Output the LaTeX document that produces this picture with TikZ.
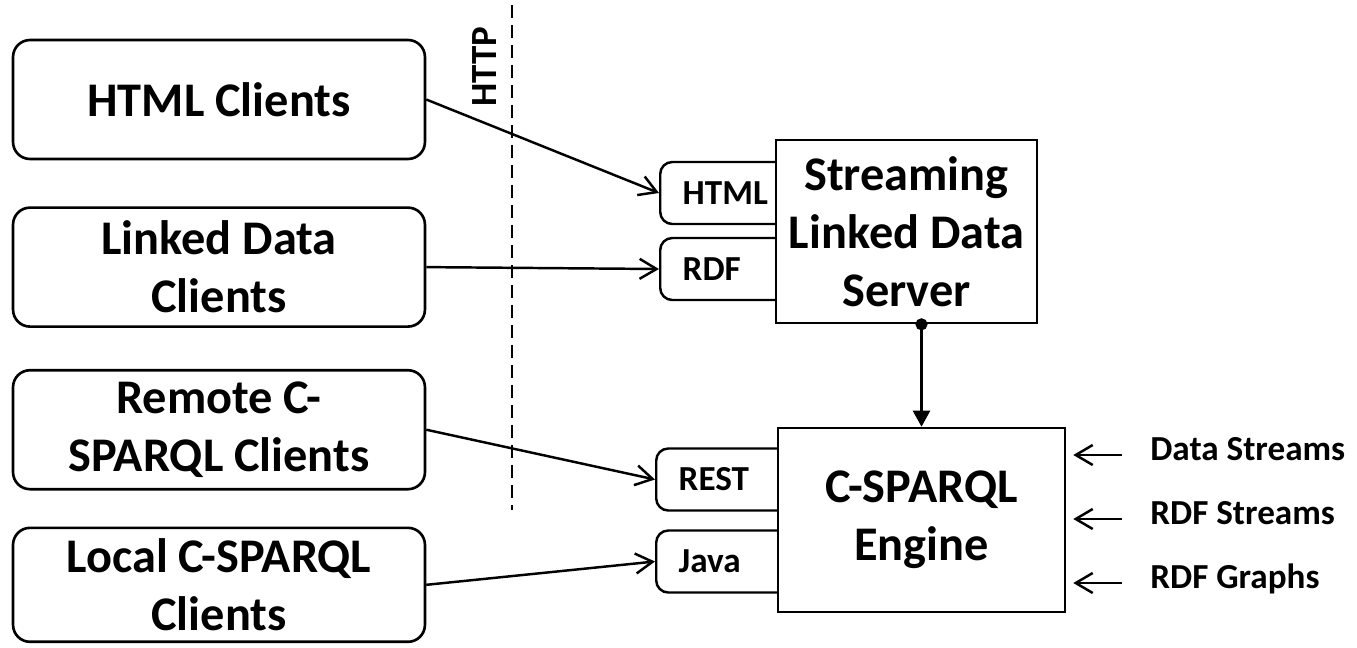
\documentclass[tikz,border=0pt]{standalone}
\usepackage{fontspec}
\setmainfont{Carlito}
\usepackage{tikz}
\usetikzlibrary{arrows.meta,positioning,calc}
\definecolor{lineclr}{RGB}{0,0,0}
\definecolor{txtclr}{RGB}{0,0,0}
\definecolor{boxfill}{RGB}{255,255,255}
\tikzset{
  clbox/.style={rectangle,rounded corners=0.34cm,draw=lineclr,fill=boxfill,
    line width=1.5pt,minimum width=8.24cm,minimum height=2.38cm,
    font=\fontsize{27.5}{33}\selectfont\bfseries,align=center,text=txtclr},
  corebox/.style={rectangle,draw=lineclr,fill=boxfill,line width=1.5pt,
    font=\fontsize{27.5}{33}\selectfont\bfseries,align=center,text=txtclr},
  portbox/.style={rectangle,rounded corners=0.24cm,draw=lineclr,fill=boxfill,
    line width=1.4pt,text width=1.9cm,inner xsep=0.45cm,minimum height=1.24cm,
    font=\fontsize{20}{24}\selectfont\bfseries,align=left,text=txtclr},
  srclbl/.style={font=\fontsize{20}{24}\selectfont\bfseries,text=txtclr,
    text height=1.38ex,text depth=0pt,inner sep=0.1cm},
  httplbl/.style={font=\fontsize{21}{24}\selectfont\bfseries,text=txtclr},
  cliarr/.style={-{Straight Barb[length=0.34cm,width=0.4cm]},line width=1.4pt,color=lineclr},
  inarr/.style={-{Straight Barb[length=0.34cm,width=0.4cm]},line width=1.4pt,color=lineclr},
  linkarr/.style={{Circle[length=0.24cm]}-{Triangle[length=0.32cm,width=0.34cm]},
    line width=1.4pt,color=lineclr},
  sepline/.style={line width=1.3pt,dash pattern=on 0.26cm off 0.14cm,color=lineclr},
}

\begin{document}
\begin{tikzpicture}[x=0.02cm,y=-0.02cm]
  \useasboundingbox (0,0) rectangle (1357,647);

  % clients
  \node[clbox] (hc) at (219,99.5) {HTML Clients};
  \node[clbox,below=0.92cm of hc] (lc)  {Linked Data\\Clients};
  \node[clbox,below=0.82cm of lc] (rc)  {Remote C-\\SPARQL Clients};
  \node[clbox,below=0.72cm of rc,minimum height=2.28cm] (loc) {Local C-SPARQL\\Clients};

  % HTTP boundary
  \coordinate (septop) at (512,5);
  \coordinate (sepbot) at (512,510);
  \draw[sepline] (septop) -- (sepbot);
  \node[httplbl,rotate=90] (http) at (485,67) {HTTP};

  % interfaces (drawn before the boxes that cover them)
  \node[portbox,anchor=west] (hp) at (659,193)   {HTML};
  \node[portbox,anchor=west] (rp) at (659,269)   {RDF};
  \node[portbox,anchor=west] (sp) at (655,479.5) {REST};
  \node[portbox,anchor=west] (jp) at (655,561.5) {Java};

  \node[corebox,minimum width=5.22cm,minimum height=3.66cm] (srv) at (906.5,231.5)
    {Streaming\\Linked Data\\Server};
  \node[corebox,minimum width=5.74cm,minimum height=3.68cm] (eng) at (921.5,520)
    {C-SPARQL\\Engine};

  % inputs of the engine
  \node[srclbl,anchor=west] (ds) at (1145,455) {Data Streams};
  \node[srclbl,anchor=west] (rs) at (1145,519) {RDF Streams};
  \node[srclbl,anchor=west] (rg) at (1145,583) {RDF Graphs};

  \foreach \a/\b in {hc/hp, lc/rp, rc/sp, loc/jp}{
    \draw[cliarr] (\a.east) -- (\b.west);
  }
  \foreach \s in {ds,rs,rg}{
    \draw[inarr,shorten <=0.46cm,shorten >=0.14cm] (\s.west) -- (\s.west -| eng.east);
  }
  \draw[linkarr,shorten <=-0.12cm] (srv.south -| eng.north) -- (eng.north);

\end{tikzpicture}
\end{document}
